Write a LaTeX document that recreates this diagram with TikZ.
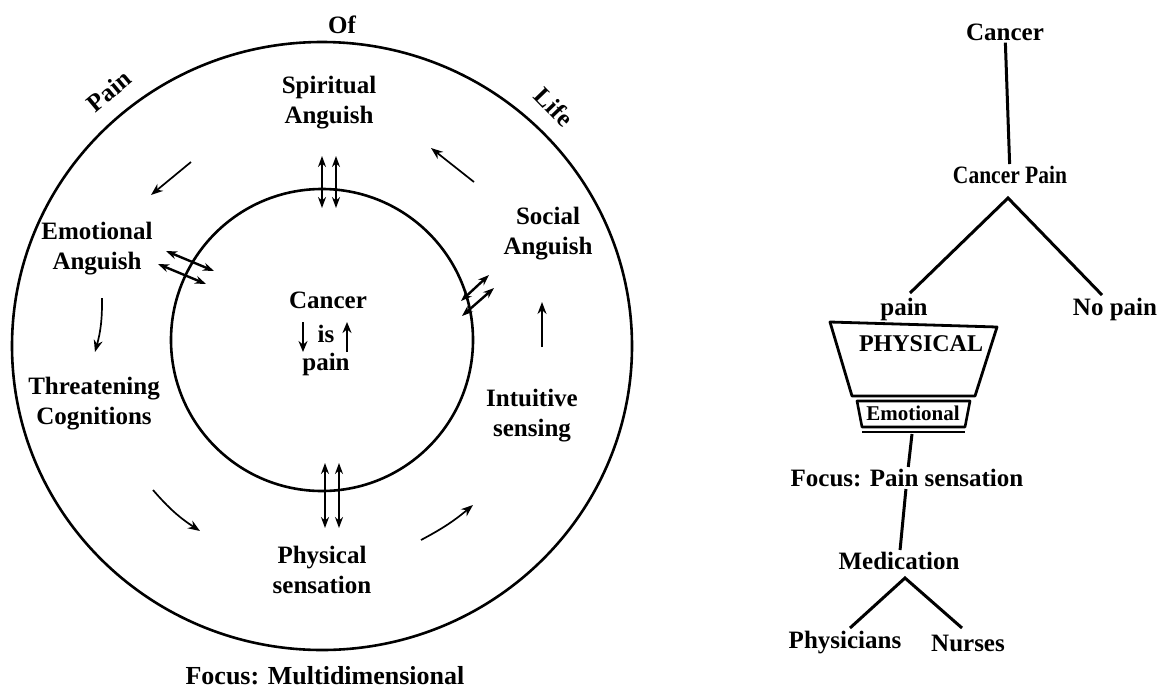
\documentclass[tikz,border=0pt]{standalone}
\usepackage{fontspec}
\setmainfont{Liberation Serif}
\usetikzlibrary{arrows.meta}
\newcommand\lblfont{\bfseries\fontsize{25}{30}\selectfont}
\tikzset{
  lbl/.style={font=\lblfont, align=center, inner sep=2pt},
  ring/.style={line width=2.6pt},
  flow/.style={line width=1.7pt, -{Stealth[length=12pt,width=9pt]}},
  dbl/.style={line width=2.4pt, {Stealth[length=11pt,width=8pt]}-{Stealth[length=11pt,width=8pt]}},
  bigar/.style={line width=2.8pt, -{Stealth[length=11pt,width=9pt]}},
  tree/.style={line width=3pt},
}
\begin{document}
\begin{tikzpicture}[x=1pt,y=-1pt]
\useasboundingbox (0,0) rectangle (1161,691);
% circles
\draw[ring] (322,346) ellipse [x radius=310, y radius=304];
\draw[ring] (322,340) circle [radius=151];
% ring labels
\node[lbl, rotate=40] (lpain) at (109,91) {Pain};
\node[lbl] (lof) at (342,25) {Of};
\node[lbl, rotate=-46] (llife) at (554,107) {Life};
\node[lbl] (spir) at (329,103) {Spiritual\\Anguish};
\node[lbl] (emo) at (97,249) {Emotional\\Anguish};
\node[lbl] (thr) at (94,404) {Threatening\\Cognitions};
\node[lbl] (phys) at (322,570) {Physical\\sensation};
\node[lbl] (intu) at (532,416) {Intuitive\\sensing};
\node[lbl] (soc) at (548,234) {Social\\Anguish};
\node[lbl, font=\bfseries\fontsize{26}{30}\selectfont] (focm) at (325,676) {Focus: Multidimensional};
% center
\node[lbl] (ccan) at (328,300) {Cancer};
\node[lbl] (cis) at (326,334) {is};
\node[lbl] (cpn) at (326,364) {pain};
\draw[bigar] ([xshift=-23pt,yshift=12pt]cis.center) -- ++(0,30);
\draw[bigar] ([xshift=21pt,yshift=-18pt]cis.center) -- ++(0,-30);
% flow arrows
\coordinate (f1a) at (191,162); \coordinate (f1b) at (151,195);
\coordinate (f2a) at (474,182); \coordinate (f2b) at (431,148);
\coordinate (f3a) at (102,298); \coordinate (f3b) at (95,352);
\coordinate (f4a) at (153,490); \coordinate (f4b) at (200,531);
\coordinate (f5a) at (421,540); \coordinate (f5b) at (473,505);
\coordinate (f6a) at (542,347); \coordinate (f6b) at (542,302);
\draw[flow] (f1a) -- (f1b);
\draw[flow] (f2a) -- (f2b);
\draw[flow] (f3a) to[bend left=8] (f3b);
\draw[flow] (f4a) to[bend right=8] (f4b);
\draw[flow] (f5a) to[bend right=6] (f5b);
\draw[flow] (f6a) -- (f6b);
% double arrows crossing inner circle
\coordinate (t1a) at (322,156); \coordinate (t1b) at (322,208);
\coordinate (t2a) at (336,156); \coordinate (t2b) at (336,208);
\coordinate (b1a) at (325,463); \coordinate (b1b) at (325,528);
\coordinate (b2a) at (339,463); \coordinate (b2b) at (339,528);
\coordinate (l1a) at (166,251); \coordinate (l1b) at (214,271);
\coordinate (l2a) at (158,264); \coordinate (l2b) at (206,284);
\coordinate (r1a) at (461,301); \coordinate (r1b) at (489,275);
\coordinate (r2a) at (462,316); \coordinate (r2b) at (494,288);
\foreach \p in {t1,t2,b1,b2,l1,l2,r1,r2}{\draw[dbl] (\p a) -- (\p b);}
% tree
\node[lbl] (tcan) at (1005,32) {Cancer};
\node[lbl] (tcp) at (1010,175) {\scalebox{0.86}[1]{Cancer Pain}};
\node[lbl] (tpain) at (904,309) {pain};
\node[lbl] (tnop) at (1115,309) {No pain};
\node[lbl, font=\bfseries\fontsize{24}{26}\selectfont] (tphy) at (921,344) {PHYSICAL};
\node[lbl, font=\bfseries\fontsize{21}{22}\selectfont] (temo) at (913,413) {Emotional};
\node[lbl] (tfoc) at (907,478) {Focus: Pain sensation};
\node[lbl] (tmed) at (899,561) {Medication};
\node[lbl] (tphs) at (845,643) {Physicians};
\node[lbl] (tnur) at (968,643) {Nurses};
\draw[tree] (tcan) -- (tcp);
\coordinate (apex1) at (1008,198);
\coordinate (lleg) at (910,293);
\coordinate (rleg) at (1102,295);
\draw[tree] (lleg) -- (apex1) -- (rleg);
% trapezoid box
\draw[line width=2.8pt, line join=round] (830,322) -- (997,327) -- (975,396) -- (852,396) -- cycle;
\draw[line width=2.6pt, line join=round] (857,401) -- (970,401) -- (965,427) -- (862,427) -- cycle;
\draw[line width=1.8pt] (862,432) -- (965,432);
\coordinate (boxb) at (912,434);
\draw[tree] (boxb) -- (tfoc);
\draw[tree] (tfoc) -- (tmed);
\coordinate (apex2) at (905,578);
\coordinate (pleg) at (850,628);
\coordinate (nleg) at (962,628);
\draw[tree] (pleg) -- (apex2) -- (nleg);
\end{tikzpicture}
\end{document}
